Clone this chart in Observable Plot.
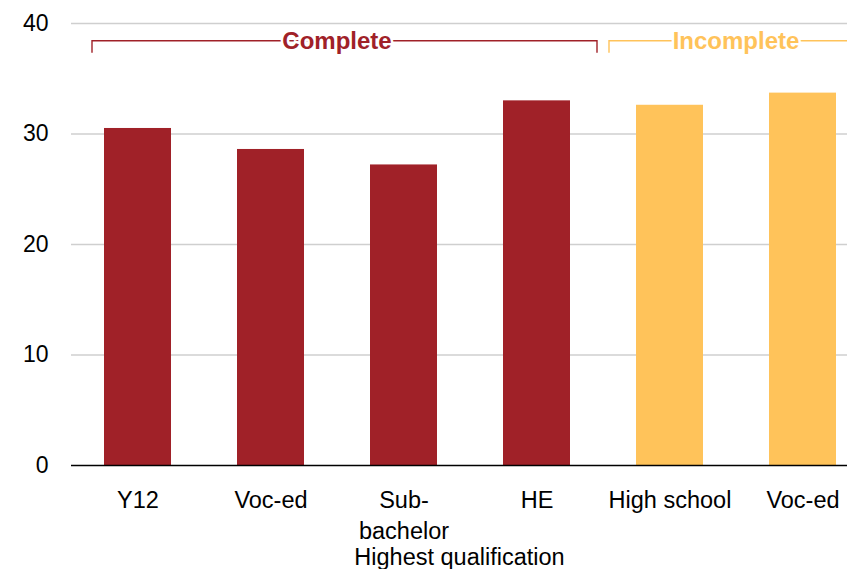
<!DOCTYPE html>
<html>
<head>
<meta charset="utf-8">
<script src="https://cdn.jsdelivr.net/npm/d3@7"></script>
<script src="https://cdn.jsdelivr.net/npm/@observablehq/plot@0.6"></script>
<style>
  html, body { margin: 0; padding: 0; background: #fff; overflow: hidden; }
  svg { font-family: "Liberation Sans", Arial, sans-serif; }
</style>
</head>
<body>
<div id="chart"></div>
<script>
// Data
const keys = ["c_y12", "c_voced", "c_subbach", "c_he", "i_hs", "i_voced"];
const labels = ["Y12", "Voc-ed", "Sub-\nbachelor", "HE", "High school", "Voc-ed"];
const values = [30.5, 28.6, 27.2, 33.0, 32.6, 33.7];
const status = ["Complete", "Complete", "Complete", "Complete", "Incomplete", "Incomplete"];
const groupNames = ["Complete", "Incomplete"];
const groupColors = ["#A02128", "#FFC35A"];
const yTicks = [0, 10, 20, 30, 40];
const xTitle = "Highest qualification";

const data = keys.map((k, i) => ({key: k, label: labels[i], value: values[i], status: status[i]}));
const labelOf = new Map(keys.map((k, i) => [k, labels[i]]));
const colorOf = new Map(groupNames.map((g, i) => [g, groupColors[i]]));

const W = 847, H = 569;
const chart = Plot.plot({
  width: W,
  height: H,
  marginLeft: 71,
  marginRight: 0,
  marginTop: 23,
  marginBottom: 104,
  style: {fontFamily: "'Liberation Sans', Arial, sans-serif", fontSize: "23px", color: "#000", background: "#fff"},
  x: {domain: keys, range: [70.5, 868.5], paddingInner: 0.5, paddingOuter: 0.25},
  y: {domain: [0, 40], ticks: yTicks},
  marks: [
    Plot.gridY(yTicks.filter(d => d > 0), {stroke: "#cfcfcf", strokeOpacity: 1, strokeWidth: 1.3}),
    Plot.barY(data, {x: "key", y: "value", fill: d => colorOf.get(d.status)}),
    Plot.ruleY([0], {stroke: "#000", strokeWidth: 1.3}),
    Plot.axisY({ticks: yTicks, tickSize: 0, tickPadding: 23, fontSize: 23, label: null}),
    Plot.axisX({tickSize: 0, tickPadding: 21, fontSize: 23.5, lineHeight: 1.3, tickFormat: k => labelOf.get(k), label: null}),
    Plot.text([xTitle], {frameAnchor: "bottom", dy: 92, fontSize: 23.5, lineAnchor: "middle", fill: "#000"})
  ]
});

// Group brackets, positioned through the plot's own scales
const sx = chart.scale("x");
const sy = chart.scale("y");
const bw = sx.bandwidth;
const step = bw / 0.5;
const svg = d3.select(chart);
const bracketTop = sy.apply(38.4);
const bracketBottom = sy.apply(37.3);
groupNames.forEach((g, gi) => {
  const members = data.filter(d => d.status === g);
  const first = members[0].key, last = members[members.length - 1].key;
  const firstCenter = sx.apply(first) + bw / 2;
  const lastCenter = sx.apply(last) + bw / 2;
  const bandStart = firstCenter - step / 2;
  const bandEnd = lastCenter + step / 2;
  const x1 = gi === 0 ? bandStart + 21.5 : bandStart + 6.5;
  const x2 = gi === 0 ? bandEnd - 6.5 : Math.min(W, bandEnd - 6.5);
  const col = groupColors[gi];
  const cx = (firstCenter + lastCenter) / 2;
  const gEl = svg.append("g");
  let d = `M${x1},${bracketBottom}V${bracketTop}H${x2}`;
  if (x2 < W) d += `V${bracketBottom}`;
  gEl.append("path").attr("d", d).attr("fill", "none").attr("stroke", col).attr("stroke-width", 1.4);
  gEl.append("text")
    .attr("x", cx).attr("y", bracketTop).attr("dy", "0.35em")
    .attr("text-anchor", "middle")
    .attr("font-weight", "bold")
    .attr("font-size", 24)
    .attr("fill", col)
    .attr("stroke", "#fff").attr("stroke-width", 5).attr("paint-order", "stroke")
    .text(g);
});

document.getElementById("chart").appendChild(chart);
</script>
</body>
</html>
